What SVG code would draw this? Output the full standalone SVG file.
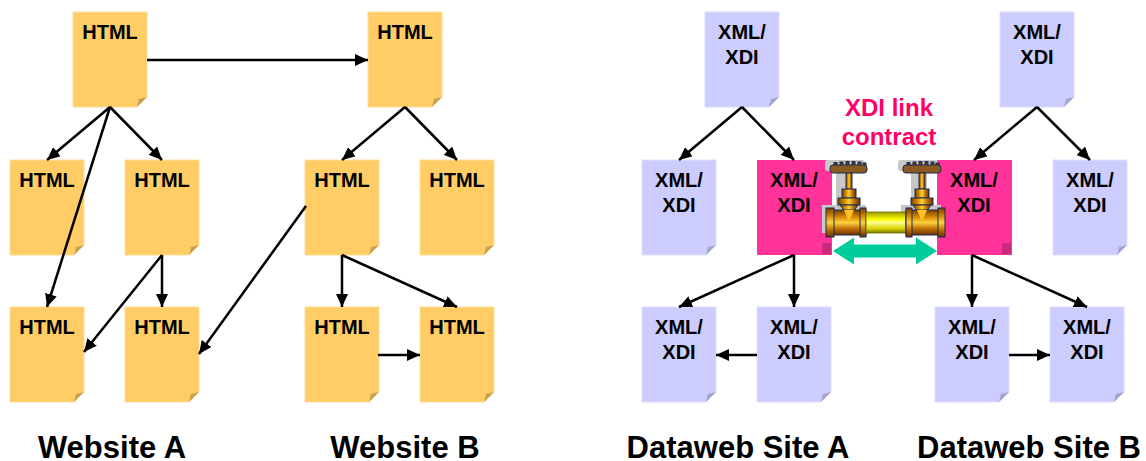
<svg xmlns="http://www.w3.org/2000/svg" width="1146" height="461" viewBox="0 0 1146 461">
<style>
.t{font-family:"Liberation Sans",Arial,sans-serif;font-weight:bold;font-size:20px;fill:#000;text-anchor:middle}
.lbl{font-family:"Liberation Sans",Arial,sans-serif;font-weight:bold;font-size:31px;fill:#000;text-anchor:middle}
.xdi{font-family:"Liberation Sans",Arial,sans-serif;font-weight:bold;font-size:24px;fill:#FF0066;text-anchor:middle}
.html{fill:#FFCC66;stroke:#FFDD99;stroke-width:1}
.hfold{fill:#C9A050}
.xml{fill:#CCCCFF;stroke:#DDDDFF;stroke-width:1}
.xfold{fill:#A3A3CC}
.pink{fill:#FF3399}
.pfold{fill:#CC2A7A}
.c line{stroke:#000;stroke-width:2.5;marker-end:url(#ah)}
.nv{stroke:#1A2A55;stroke-width:1}
.sh{fill:#C8C8C8}
</style>
<defs>
<marker id="ah" markerUnits="userSpaceOnUse" markerWidth="13" markerHeight="12" refX="13" refY="6" orient="auto">
<path d="M0,0 L13,6 L0,12 z" fill="#000"/>
</marker>
<linearGradient id="brassV" x1="0" y1="0" x2="0" y2="1">
<stop offset="0" stop-color="#7A3C00"/>
<stop offset="0.3" stop-color="#D89000"/>
<stop offset="0.5" stop-color="#FFD040"/>
<stop offset="0.75" stop-color="#C07000"/>
<stop offset="1" stop-color="#6A3000"/>
</linearGradient>
<linearGradient id="brassH" x1="0" y1="0" x2="1" y2="0">
<stop offset="0" stop-color="#7A3C00"/>
<stop offset="0.35" stop-color="#E0A000"/>
<stop offset="0.5" stop-color="#FFD040"/>
<stop offset="0.75" stop-color="#C07000"/>
<stop offset="1" stop-color="#6A3000"/>
</linearGradient>
<linearGradient id="yel" x1="0" y1="0" x2="0" y2="1">
<stop offset="0" stop-color="#9A9A00"/>
<stop offset="0.35" stop-color="#FFFF00"/>
<stop offset="0.5" stop-color="#FFFF90"/>
<stop offset="0.8" stop-color="#D8D000"/>
<stop offset="1" stop-color="#7A7A00"/>
</linearGradient>
</defs>

<!-- Website A -->
<g id="A1"><polygon class="html" points="73,12 147,12 147,97 137,107 73,107"/><polygon class="hfold" points="137,107 147,97 139,99"/><text class="t" x="110" y="39">HTML</text></g>
<g id="A2"><polygon class="html" points="10,160 84,160 84,245 74,255 10,255"/><polygon class="hfold" points="74,255 84,245 76,247"/><text class="t" x="47" y="187">HTML</text></g>
<g id="A3"><polygon class="html" points="125,160 199,160 199,245 189,255 125,255"/><polygon class="hfold" points="189,255 199,245 191,247"/><text class="t" x="162" y="187">HTML</text></g>
<g id="A4"><polygon class="html" points="10,307 84,307 84,392 74,402 10,402"/><polygon class="hfold" points="74,402 84,392 76,394"/><text class="t" x="47" y="334">HTML</text></g>
<g id="A5"><polygon class="html" points="125,307 199,307 199,392 189,402 125,402"/><polygon class="hfold" points="189,402 199,392 191,394"/><text class="t" x="162" y="334">HTML</text></g>

<!-- Website B -->
<g id="B1"><polygon class="html" points="368,12 442,12 442,97 432,107 368,107"/><polygon class="hfold" points="432,107 442,97 434,99"/><text class="t" x="405" y="39">HTML</text></g>
<g id="B2"><polygon class="html" points="305,160 379,160 379,245 369,255 305,255"/><polygon class="hfold" points="369,255 379,245 371,247"/><text class="t" x="342" y="187">HTML</text></g>
<g id="B3"><polygon class="html" points="420,160 494,160 494,245 484,255 420,255"/><polygon class="hfold" points="484,255 494,245 486,247"/><text class="t" x="457" y="187">HTML</text></g>
<g id="B4"><polygon class="html" points="305,307 379,307 379,392 369,402 305,402"/><polygon class="hfold" points="369,402 379,392 371,394"/><text class="t" x="342" y="334">HTML</text></g>
<g id="B5"><polygon class="html" points="420,307 494,307 494,392 484,402 420,402"/><polygon class="hfold" points="484,402 494,392 486,394"/><text class="t" x="457" y="334">HTML</text></g>

<!-- Dataweb A -->
<g id="C1"><polygon class="xml" points="705,12 779,12 779,97 769,107 705,107"/><polygon class="xfold" points="769,107 779,97 771,99"/><text class="t" x="742" y="39">XML/</text><text class="t" x="742" y="64">XDI</text></g>
<g id="C2"><polygon class="xml" points="642,160 716,160 716,245 706,255 642,255"/><polygon class="xfold" points="706,255 716,245 708,247"/><text class="t" x="679" y="187">XML/</text><text class="t" x="679" y="212">XDI</text></g>
<g id="C3"><rect class="pink" x="757" y="160" width="75" height="95"/><rect class="pfold" x="822" y="243" width="9" height="11"/><text class="t" x="794" y="187">XML/</text><text class="t" x="794" y="212">XDI</text></g>
<g id="C4"><polygon class="xml" points="642,307 716,307 716,392 706,402 642,402"/><polygon class="xfold" points="706,402 716,392 708,394"/><text class="t" x="679" y="334">XML/</text><text class="t" x="679" y="359">XDI</text></g>
<g id="C5"><polygon class="xml" points="757,307 831,307 831,392 821,402 757,402"/><polygon class="xfold" points="821,402 831,392 823,394"/><text class="t" x="794" y="334">XML/</text><text class="t" x="794" y="359">XDI</text></g>

<!-- Dataweb B -->
<g id="D1"><polygon class="xml" points="1000,12 1074,12 1074,97 1064,107 1000,107"/><polygon class="xfold" points="1064,107 1074,97 1066,99"/><text class="t" x="1037" y="39">XML/</text><text class="t" x="1037" y="64">XDI</text></g>
<g id="D2"><rect class="pink" x="937" y="160" width="75" height="95"/><rect class="pfold" x="1002" y="243" width="9" height="11"/><text class="t" x="974" y="187">XML/</text><text class="t" x="974" y="212">XDI</text></g>
<g id="D3"><polygon class="xml" points="1053,160 1127,160 1127,245 1117,255 1053,255"/><polygon class="xfold" points="1117,255 1127,245 1119,247"/><text class="t" x="1090" y="187">XML/</text><text class="t" x="1090" y="212">XDI</text></g>
<g id="D4"><polygon class="xml" points="935,307 1009,307 1009,392 999,402 935,402"/><polygon class="xfold" points="999,402 1009,392 1001,394"/><text class="t" x="972" y="334">XML/</text><text class="t" x="972" y="359">XDI</text></g>
<g id="D5"><polygon class="xml" points="1050,307 1124,307 1124,392 1114,402 1050,402"/><polygon class="xfold" points="1114,402 1124,392 1116,394"/><text class="t" x="1087" y="334">XML/</text><text class="t" x="1087" y="359">XDI</text></g>

<!-- connectors -->
<g id="connectors" class="c">
<line x1="110" y1="107" x2="47" y2="160"/>
<line x1="110" y1="107" x2="162" y2="160"/>
<line x1="110" y1="107" x2="47" y2="307"/>
<line x1="147" y1="60" x2="368" y2="60"/>
<line x1="162" y1="255" x2="162" y2="307"/>
<line x1="162" y1="255" x2="84" y2="352"/>
<line x1="306" y1="206" x2="199" y2="354"/>
<line x1="405" y1="107" x2="342" y2="160"/>
<line x1="405" y1="107" x2="457" y2="160"/>
<line x1="342" y1="255" x2="342" y2="307"/>
<line x1="342" y1="255" x2="457" y2="307"/>
<line x1="378" y1="355" x2="420" y2="355"/>
<line x1="742" y1="107" x2="679" y2="160"/>
<line x1="742" y1="107" x2="794" y2="160"/>
<line x1="794" y1="255" x2="679" y2="307"/>
<line x1="794" y1="255" x2="794" y2="307"/>
<line x1="757" y1="355" x2="716" y2="355"/>
<line x1="1037" y1="107" x2="974" y2="160"/>
<line x1="1037" y1="107" x2="1090" y2="160"/>
<line x1="972" y1="255" x2="972" y2="307"/>
<line x1="972" y1="255" x2="1087" y2="307"/>
<line x1="1009" y1="355" x2="1050" y2="355"/>
</g>

<!-- XDI link contract -->
<g id="link">
<text class="xdi" x="889" y="116">XDI link</text>
<text class="xdi" x="889" y="145">contract</text>
<polygon fill="#00CC99" points="833,251 854,237.5 854,244.5 916,244.5 916,237.5 937,251 916,264.5 916,257.5 854,257.5 854,264.5"/>
</g>

<!-- valve -->
<g id="valve">
<rect class="sh" x="825" y="160" width="40" height="11" rx="3"/>
<rect class="sh" x="836" y="170" width="16" height="40"/>
<rect class="sh" x="822" y="205" width="44" height="28"/>
<rect class="sh" x="898" y="160" width="40" height="11" rx="3"/>
<rect class="sh" x="911" y="170" width="16" height="40"/>
<rect class="sh" x="901" y="205" width="40" height="28"/>
<g class="nv">
<rect x="834" y="162.5" width="3" height="4" fill="#6A3A10"/>
<rect x="840" y="162" width="3" height="4" fill="#6A3A10"/>
<rect x="846" y="161.5" width="3" height="4" fill="#6A3A10"/>
<rect x="852" y="161.5" width="3" height="4" fill="#6A3A10"/>
<rect x="858" y="162" width="3" height="4" fill="#6A3A10"/>
<rect x="863" y="163" width="3" height="4" fill="#6A3A10"/>
<rect x="830" y="165" width="37" height="8" rx="3" fill="#8B5A20"/>
<rect x="846" y="173" width="6" height="16" fill="url(#brassH)"/>
<rect x="842" y="189" width="14" height="9" fill="url(#brassH)"/>
<rect x="838" y="198" width="22" height="7" fill="url(#brassH)"/>
<polygon points="840,205 858,205 853,212 845,212" fill="url(#brassH)"/>
<rect x="828" y="210" width="38" height="25" fill="url(#brassV)"/>
<rect x="826" y="208" width="8" height="29" fill="url(#brassV)"/>
<rect x="860" y="208" width="6" height="29" fill="url(#brassV)"/>
<polygon points="844,210 854,210 849,222" fill="#FFC020" stroke="none"/>
</g>
<rect x="866" y="212" width="40" height="21" fill="url(#yel)" stroke="#6A6A00" stroke-width="0.8"/>
<g class="nv">
<rect x="907" y="162.5" width="3" height="4" fill="#6A3A10"/>
<rect x="913" y="162" width="3" height="4" fill="#6A3A10"/>
<rect x="919" y="161.5" width="3" height="4" fill="#6A3A10"/>
<rect x="925" y="161.5" width="3" height="4" fill="#6A3A10"/>
<rect x="931" y="162" width="3" height="4" fill="#6A3A10"/>
<rect x="936" y="163" width="3" height="4" fill="#6A3A10"/>
<rect x="903" y="165" width="38" height="8" rx="3" fill="#8B5A20"/>
<rect x="919" y="173" width="6" height="16" fill="url(#brassH)"/>
<rect x="915" y="189" width="14" height="9" fill="url(#brassH)"/>
<rect x="911" y="198" width="22" height="7" fill="url(#brassH)"/>
<polygon points="913,205 931,205 926,212 918,212" fill="url(#brassH)"/>
<rect x="906" y="210" width="37" height="25" fill="url(#brassV)"/>
<rect x="906" y="208" width="6" height="29" fill="url(#brassV)"/>
<rect x="938" y="208" width="7" height="29" fill="url(#brassV)"/>
<polygon points="917,210 927,210 922,222" fill="#FFC020" stroke="none"/>
</g>
</g>

<!-- labels -->
<text class="lbl" x="112" y="458">Website A</text>
<text class="lbl" x="405" y="458">Website B</text>
<text class="lbl" x="738" y="458">Dataweb Site A</text>
<text class="lbl" x="1029" y="458">Dataweb Site B</text>
</svg>
